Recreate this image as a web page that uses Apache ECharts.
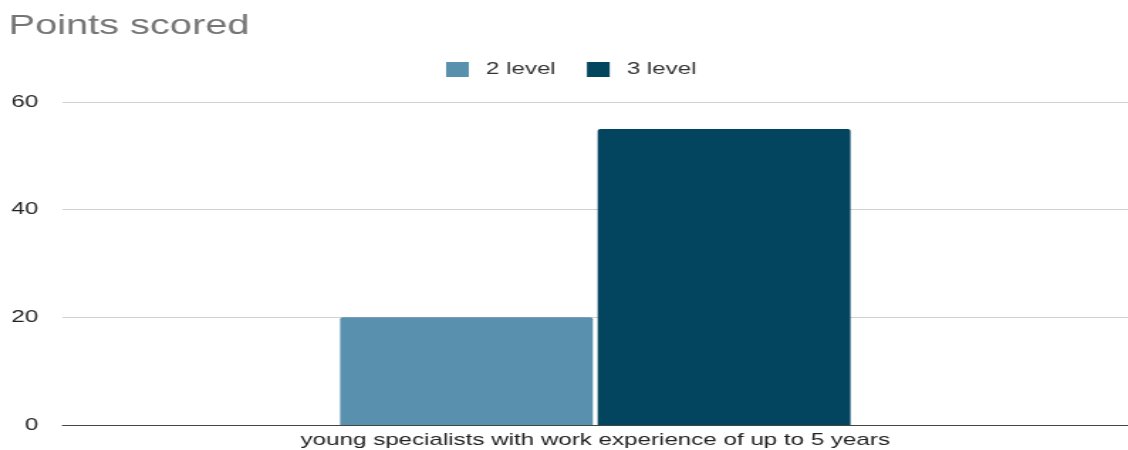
<!DOCTYPE html>
<html><head><meta charset="utf-8">
<script src="https://cdn.jsdelivr.net/npm/echarts@6/dist/echarts.min.js"></script>
<style>html,body{margin:0;padding:0;background:#fff;overflow:hidden}
#c{width:794px;height:450px;transform:scaleX(1.4207);transform-origin:0 0}</style>
</head><body><div id="c"></div>
<script>
const categories = ["young specialists with work experience of up to 5 years"];
const level2 = [20];
const level3 = [55];
const seriesNames = ["2 level", "3 level"];
const yTicks = {min: 0, max: 60, interval: 20};

const chart = echarts.init(document.getElementById('c'));
const font = "'Liberation Sans', Arial, sans-serif";
chart.setOption({
  animation: false,
  title: {text: "Points scored", left: 1, top: 7,
    textStyle: {fontFamily: font, fontSize: 28, fontWeight: 'normal', color: '#757575'}},
  legend: {top: 56, left: 309, itemWidth: 16, itemHeight: 15, itemGap: 22,
    icon: 'rect',
    textStyle: {fontFamily: font, fontSize: 17, color: '#333', padding: [0, 0, 0, 7]},
    data: seriesNames},
  grid: {left: 44, width: 754, top: 102, bottom: 25, containLabel: false},
  xAxis: {type: 'category', data: categories,
    axisLine: {lineStyle: {color: '#444', width: 1}}, axisTick: {show: false},
    axisLabel: {fontFamily: font, fontSize: 17, color: '#222', margin: 7}},
  yAxis: {type: 'value', min: yTicks.min, max: yTicks.max, interval: yTicks.interval,
    axisLine: {show: false}, axisTick: {show: false},
    splitLine: {lineStyle: {color: '#d0d0d0'}},
    axisLabel: {fontFamily: font, fontSize: 17, color: '#222', margin: 17}},
  series: [
    {name: seriesNames[0], type: 'bar', data: level2, barGap: '1.9%', barCategoryGap: '52.1%',
      itemStyle: {color: '#5990ae', borderRadius: [2,2,0,0]}},
    {name: seriesNames[1], type: 'bar', data: level3,
      itemStyle: {color: '#03445f', borderRadius: [2,2,0,0]}}
  ]
});
</script></body></html>
